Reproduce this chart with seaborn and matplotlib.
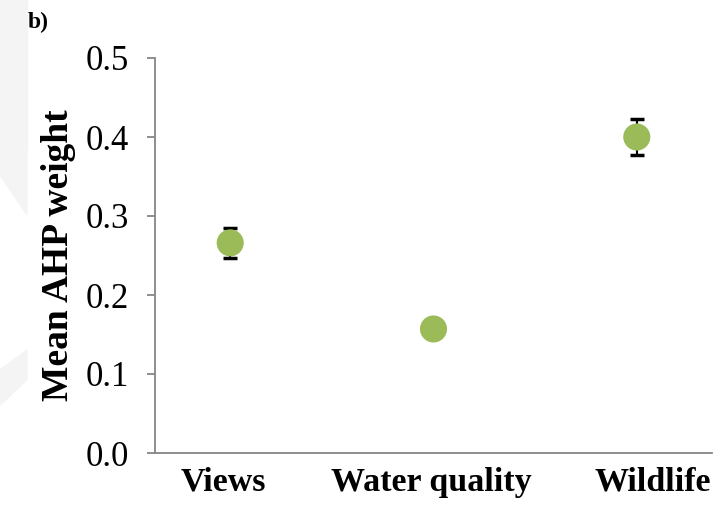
import matplotlib
matplotlib.use('Agg')
import matplotlib.pyplot as plt
import seaborn as sns
import pandas as pd
from matplotlib.patches import Polygon

# chart values
categories = ['Views', 'Water quality', 'Wildlife']
mean_weight = [0.266, 0.157, 0.400]
err_weight = [0.019, 0.010, 0.023]

df = pd.DataFrame({'attribute': categories, 'weight': mean_weight, 'err': err_weight})

sns.set_style('white')
plt.rcParams['font.family'] = ['Liberation Serif', 'DejaVu Serif']
plt.rcParams['text.color'] = 'black'
plt.rcParams['xtick.color'] = 'black'
plt.rcParams['ytick.color'] = 'black'
plt.rcParams['axes.labelcolor'] = 'black'

W, H = 727, 509
fig = plt.figure(figsize=(W / 100, H / 100), dpi=100)


def px(pts):
    # pixel coords (from top-left) -> figure fraction
    return [[x / W, 1 - y / H] for x, y in pts]


# faint watermark shapes in the background
wm = '#f4f4f4'
for shape in ([(0, 0), (27, 0), (27, 150), (0, 150)],
              [(0, 150), (27, 150), (27, 215), (0, 175)],
              [(0, 405), (27, 380), (27, 350), (0, 370)]):
    fig.patches.append(Polygon(px(shape), closed=True, transform=fig.transFigure,
                               color=wm, zorder=-5))

ax = fig.add_axes([155 / W, 1 - 453 / H, (712 - 155) / W, (453 - 58) / H])
ax.patch.set_alpha(0)

x = list(range(len(categories)))
ax.errorbar(x, df['weight'], yerr=df['err'], fmt='none', ecolor='black',
            elinewidth=1.5, capsize=5, capthick=2.5, zorder=2)
sns.scatterplot(data=df, x='attribute', y='weight', ax=ax, s=380, color='#9bbb59',
                edgecolor='none', zorder=3, legend=False)

ax.set_ylim(0, 0.5)
ax.set_xlim(-0.37, 2.37)
ax.set_yticks([0.0, 0.1, 0.2, 0.3, 0.4, 0.5])
ax.set_yticklabels(['0.0', '0.1', '0.2', '0.3', '0.4', '0.5'])
ax.set_xticks(x)
ax.set_xticklabels([])

# category labels, nudged a little horizontally as in the original
for xi, name, dx in zip(x, categories, [-7, -2, 16]):
    ax.annotate(name, xy=(xi, 0), xycoords=('data', 'axes fraction'),
                xytext=(dx * 0.72, -10), textcoords='offset points',
                ha='center', va='top', fontsize=24.5, fontweight='bold',
                annotation_clip=False)

for s in ['top', 'right']:
    ax.spines[s].set_visible(False)
for s in ['left', 'bottom']:
    ax.spines[s].set_color('#868686')
    ax.spines[s].set_linewidth(1.3)

ax.tick_params(axis='y', direction='out', length=6, width=1.3, color='#868686',
               labelcolor='black', labelsize=25, pad=13, left=True)
ax.tick_params(axis='x', length=0)

ax.set_xlabel('')
ax.set_ylabel('Mean AHP weight', fontsize=27, fontweight='bold', labelpad=7)

fig.text(28 / W, 1 - 22 / H, 'b)', fontsize=17, fontweight='bold', va='center')

fig.savefig('out.png', dpi=100)
